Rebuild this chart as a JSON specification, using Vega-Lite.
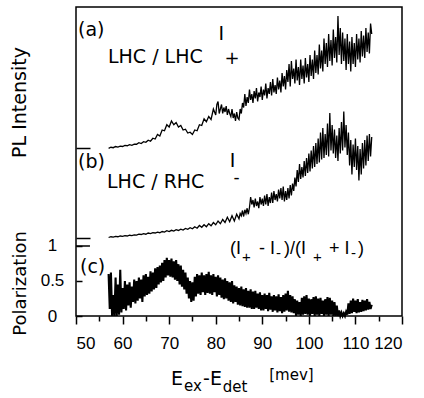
{
 "$schema": "https://vega.github.io/schema/vega-lite/v6.json",
 "width": 326, "height": 309,
 "autosize": {"type": "none"},
 "padding": {"left": 76, "top": 7, "right": 22, "bottom": 82},
 "config": {
   "font": "Liberation Sans",
   "view": {"stroke": "#000", "strokeWidth": 1.5},
   "axis": {"grid": false, "domain": false, "tickColor": "#000", "labelColor": "#000", "titleColor": "#000", "tickWidth": 1.5, "labelFont": "Liberation Sans", "titleFont": "DejaVu Sans", "titleFontWeight": "normal"},
   "text": {"font": "DejaVu Sans", "color": "#000", "align": "left", "baseline": "alphabetic"}
 },
 "datasets": {
  "pol": [
   {"e":57,"v":0.6},{"e":57.25,"v":0.1},{"e":57.5,"v":0.62},{"e":57.75,"v":0.0},{"e":58,"v":0.3},{"e":58.25,"v":0.0},{"e":58.5,"v":0.55},{"e":58.75,"v":0.0},{"e":59,"v":0.45},{"e":59.25,"v":0.02},{"e":59.5,"v":0.66},{"e":59.75,"v":0.05},
   {"e":60,"v":0.4},{"e":60.25,"v":0.1},{"e":60.5,"v":0.5},{"e":60.75,"v":0.08},{"e":61,"v":0.45},{"e":61.25,"v":0.15},{"e":61.5,"v":0.48},{"e":61.75,"v":0.12},{"e":62,"v":0.42},{"e":62.25,"v":0.2},{"e":62.5,"v":0.52},{"e":62.75,"v":0.18},
   {"e":63,"v":0.5},{"e":63.25,"v":0.22},{"e":63.5,"v":0.55},{"e":63.75,"v":0.25},{"e":64,"v":0.52},{"e":64.25,"v":0.2},{"e":64.5,"v":0.58},{"e":64.75,"v":0.28},{"e":65,"v":0.6},{"e":65.25,"v":0.3},{"e":65.5,"v":0.56},{"e":65.75,"v":0.32},
   {"e":66,"v":0.64},{"e":66.25,"v":0.35},{"e":66.5,"v":0.62},{"e":66.75,"v":0.38},{"e":67,"v":0.68},{"e":67.25,"v":0.4},{"e":67.5,"v":0.7},{"e":67.75,"v":0.45},{"e":68,"v":0.72},{"e":68.25,"v":0.48},{"e":68.5,"v":0.76},{"e":68.75,"v":0.5},
   {"e":69,"v":0.8},{"e":69.25,"v":0.55},{"e":69.5,"v":0.83},{"e":69.75,"v":0.58},{"e":70,"v":0.8},{"e":70.25,"v":0.56},{"e":70.5,"v":0.82},{"e":70.75,"v":0.55},{"e":71,"v":0.78},{"e":71.25,"v":0.52},{"e":71.5,"v":0.8},{"e":71.75,"v":0.5},
   {"e":72,"v":0.74},{"e":72.25,"v":0.45},{"e":72.5,"v":0.72},{"e":72.75,"v":0.42},{"e":73,"v":0.66},{"e":73.25,"v":0.38},{"e":73.5,"v":0.62},{"e":73.75,"v":0.32},{"e":74,"v":0.55},{"e":74.25,"v":0.25},{"e":74.5,"v":0.5},{"e":74.75,"v":0.2},
   {"e":75,"v":0.48},{"e":75.25,"v":0.22},{"e":75.5,"v":0.56},{"e":75.75,"v":0.28},{"e":76,"v":0.6},{"e":76.25,"v":0.32},{"e":76.5,"v":0.58},{"e":76.75,"v":0.3},{"e":77,"v":0.62},{"e":77.25,"v":0.34},{"e":77.5,"v":0.58},{"e":77.75,"v":0.3},
   {"e":78,"v":0.6},{"e":78.25,"v":0.33},{"e":78.5,"v":0.63},{"e":78.75,"v":0.32},{"e":79,"v":0.58},{"e":79.25,"v":0.3},{"e":79.5,"v":0.6},{"e":79.75,"v":0.34},{"e":80,"v":0.56},{"e":80.25,"v":0.28},{"e":80.5,"v":0.58},{"e":80.75,"v":0.3},
   {"e":81,"v":0.55},{"e":81.25,"v":0.26},{"e":81.5,"v":0.52},{"e":81.75,"v":0.24},{"e":82,"v":0.54},{"e":82.25,"v":0.25},{"e":82.5,"v":0.5},{"e":82.75,"v":0.22},{"e":83,"v":0.48},{"e":83.25,"v":0.2},{"e":83.5,"v":0.5},{"e":83.75,"v":0.18},
   {"e":84,"v":0.44},{"e":84.25,"v":0.2},{"e":84.5,"v":0.42},{"e":84.75,"v":0.16},{"e":85,"v":0.4},{"e":85.25,"v":0.15},{"e":85.5,"v":0.42},{"e":85.75,"v":0.14},{"e":86,"v":0.38},{"e":86.25,"v":0.13},{"e":86.5,"v":0.4},{"e":86.75,"v":0.12},
   {"e":87,"v":0.36},{"e":87.25,"v":0.12},{"e":87.5,"v":0.38},{"e":87.75,"v":0.1},{"e":88,"v":0.35},{"e":88.25,"v":0.1},{"e":88.5,"v":0.36},{"e":88.75,"v":0.12},{"e":89,"v":0.32},{"e":89.25,"v":0.1},{"e":89.5,"v":0.34},{"e":89.75,"v":0.08},
   {"e":90,"v":0.3},{"e":90.25,"v":0.08},{"e":90.5,"v":0.32},{"e":90.75,"v":0.1},{"e":91,"v":0.3},{"e":91.25,"v":0.07},{"e":91.5,"v":0.33},{"e":91.75,"v":0.09},{"e":92,"v":0.28},{"e":92.25,"v":0.06},{"e":92.5,"v":0.3},{"e":92.75,"v":0.08},
   {"e":93,"v":0.28},{"e":93.25,"v":0.05},{"e":93.5,"v":0.31},{"e":93.75,"v":0.07},{"e":94,"v":0.27},{"e":94.25,"v":0.04},{"e":94.5,"v":0.3},{"e":94.75,"v":0.06},{"e":95,"v":0.32},{"e":95.25,"v":0.08},{"e":95.5,"v":0.36},{"e":95.75,"v":0.06},
   {"e":96,"v":0.3},{"e":96.25,"v":0.05},{"e":96.5,"v":0.28},{"e":96.75,"v":0.04},{"e":97,"v":0.24},{"e":97.25,"v":0.0},{"e":97.5,"v":0.22},{"e":97.75,"v":0.02},{"e":98,"v":0.2},{"e":98.25,"v":0.0},{"e":98.5,"v":0.26},{"e":98.75,"v":0.02},
   {"e":99,"v":0.28},{"e":99.25,"v":0.03},{"e":99.5,"v":0.3},{"e":99.75,"v":0.02},{"e":100,"v":0.25},{"e":100.25,"v":0.0},{"e":100.5,"v":0.24},{"e":100.75,"v":0.03},{"e":101,"v":0.27},{"e":101.25,"v":0.0},{"e":101.5,"v":0.28},{"e":101.75,"v":0.02},
   {"e":102,"v":0.25},{"e":102.25,"v":0.0},{"e":102.5,"v":0.26},{"e":102.75,"v":0.03},{"e":103,"v":0.22},{"e":103.25,"v":0.0},{"e":103.5,"v":0.24},{"e":103.75,"v":0.02},{"e":104,"v":0.27},{"e":104.25,"v":0.0},{"e":104.5,"v":0.26},{"e":104.75,"v":0.02},
   {"e":105,"v":0.22},{"e":105.25,"v":0.0},{"e":105.5,"v":0.2},{"e":105.75,"v":0.0},{"e":106,"v":0.15},{"e":106.25,"v":0.0},{"e":106.5,"v":0.08},{"e":106.75,"v":0.0},{"e":107,"v":0.05},{"e":107.25,"v":0.0},{"e":107.5,"v":0.04},{"e":107.75,"v":0.0},
   {"e":108,"v":0.06},{"e":108.25,"v":0.02},{"e":108.5,"v":0.18},{"e":108.75,"v":0.03},{"e":109,"v":0.22},{"e":109.25,"v":0.04},{"e":109.5,"v":0.25},{"e":109.75,"v":0.06},{"e":110,"v":0.22},{"e":110.25,"v":0.04},{"e":110.5,"v":0.24},{"e":110.75,"v":0.05},
   {"e":111,"v":0.2},{"e":111.25,"v":0.06},{"e":111.5,"v":0.23},{"e":111.75,"v":0.07},{"e":112,"v":0.22},{"e":112.25,"v":0.08},{"e":112.5,"v":0.24},{"e":112.75,"v":0.09},{"e":113,"v":0.2},{"e":113.25,"v":0.1},{"e":113.5,"v":0.16}
  ],
  "ip": [
   {"e":57,"v":-0.02},{"e":57.5,"v":0.05},{"e":58,"v":0.02},{"e":58.5,"v":0.1},{"e":59,"v":0.06},{"e":59.5,"v":0.12},{"e":60,"v":0.1},{"e":60.5,"v":0.17},{"e":61,"v":0.15},{"e":61.5,"v":0.22},{"e":62,"v":0.18},{"e":62.5,"v":0.26},{"e":63,"v":0.25},{"e":63.5,"v":0.35},{"e":64,"v":0.3},{"e":64.5,"v":0.42},{"e":65,"v":0.38},{"e":65.5,"v":0.52},{"e":66,"v":0.45},{"e":66.5,"v":0.65},{"e":67,"v":0.6},{"e":67.5,"v":0.9},{"e":68,"v":0.8},{"e":68.5,"v":1.2},{"e":69,"v":1.15},{"e":69.5,"v":1.55},{"e":70,"v":1.4},{"e":70.5,"v":1.8},{"e":71,"v":1.55},{"e":71.5,"v":1.7},{"e":72,"v":1.4},{"e":72.5,"v":1.5},{"e":73,"v":1.2},{"e":73.5,"v":1.25},{"e":74,"v":1.0},{"e":74.5,"v":1.05},{"e":75,"v":0.9},{"e":75.5,"v":1.2},{"e":76,"v":1.15},{"e":76.5,"v":1.55},{"e":77,"v":1.5},{"e":77.5,"v":1.95},{"e":78,"v":1.75},{"e":78.5,"v":2.1},{"e":79,"v":1.9},{"e":79.5,"v":2.6},
   {"e":80,"v":2.2},{"e":80.25,"v":2.9},{"e":80.5,"v":3.1},{"e":80.75,"v":2.3},{"e":81,"v":2.6},{"e":81.25,"v":2.9},{"e":81.5,"v":2.3},{"e":81.75,"v":2.7},{"e":82,"v":2.4},{"e":82.25,"v":2.8},{"e":82.5,"v":2.2},{"e":82.75,"v":2.6},
   {"e":83,"v":2.3},{"e":83.25,"v":2.1},{"e":83.5,"v":2.6},{"e":83.75,"v":2.0},{"e":84,"v":2.3},{"e":84.25,"v":1.8},{"e":84.5,"v":2.4},{"e":84.75,"v":2.0},{"e":85,"v":1.9},{"e":85.25,"v":2.6},{"e":85.5,"v":2.3},{"e":85.75,"v":3.0},
   {"e":86,"v":2.7},{"e":86.25,"v":3.6},{"e":86.5,"v":2.8},{"e":86.75,"v":3.4},{"e":87,"v":3.0},{"e":87.25,"v":3.9},{"e":87.5,"v":3.2},{"e":87.75,"v":3.6},{"e":88,"v":3.0},{"e":88.25,"v":3.8},{"e":88.5,"v":3.3},{"e":88.75,"v":4.0},
   {"e":89,"v":3.1},{"e":89.25,"v":3.7},{"e":89.5,"v":3.4},{"e":89.75,"v":4.1},{"e":90,"v":3.2},{"e":90.25,"v":3.9},{"e":90.5,"v":3.5},{"e":90.75,"v":4.3},{"e":91,"v":3.3},{"e":91.25,"v":4.0},{"e":91.5,"v":3.6},{"e":91.75,"v":4.4},
   {"e":92,"v":3.5},{"e":92.25,"v":4.6},{"e":92.5,"v":3.7},{"e":92.75,"v":4.2},{"e":93,"v":3.6},{"e":93.25,"v":4.7},{"e":93.5,"v":3.9},{"e":93.75,"v":4.5},{"e":94,"v":3.7},{"e":94.25,"v":5.0},{"e":94.5,"v":4.1},{"e":94.75,"v":4.8},
   {"e":95,"v":3.9},{"e":95.25,"v":5.2},{"e":95.5,"v":4.4},{"e":95.75,"v":5.6},{"e":96,"v":4.1},{"e":96.25,"v":5.8},{"e":96.5,"v":4.6},{"e":96.75,"v":5.3},{"e":97,"v":4.3},{"e":97.25,"v":5.9},{"e":97.5,"v":4.5},{"e":97.75,"v":5.4},
   {"e":98,"v":4.2},{"e":98.25,"v":5.9},{"e":98.5,"v":4.6},{"e":98.75,"v":5.5},{"e":99,"v":4.3},{"e":99.25,"v":6.0},{"e":99.5,"v":4.7},{"e":99.75,"v":5.6},{"e":100,"v":4.4},{"e":100.25,"v":6.2},{"e":100.5,"v":4.8},{"e":100.75,"v":5.9},
   {"e":101,"v":4.6},{"e":101.25,"v":6.5},{"e":101.5,"v":5.0},{"e":101.75,"v":6.2},{"e":102,"v":4.9},{"e":102.25,"v":6.9},{"e":102.5,"v":5.3},{"e":102.75,"v":6.5},{"e":103,"v":5.1},{"e":103.25,"v":7.3},{"e":103.5,"v":5.6},{"e":103.75,"v":7.0},
   {"e":104,"v":5.4},{"e":104.25,"v":7.6},{"e":104.5,"v":5.8},{"e":104.75,"v":7.2},{"e":105,"v":5.5},{"e":105.25,"v":7.9},{"e":105.5,"v":6.0},{"e":105.75,"v":7.4},{"e":106,"v":5.7},{"e":106.25,"v":8.8},{"e":106.5,"v":6.2},{"e":106.75,"v":8.0},
   {"e":107,"v":5.6},{"e":107.25,"v":7.7},{"e":107.5,"v":5.8},{"e":107.75,"v":7.3},{"e":108,"v":5.2},{"e":108.25,"v":7.6},{"e":108.5,"v":5.6},{"e":108.75,"v":7.1},{"e":109,"v":5.1},{"e":109.25,"v":7.4},{"e":109.5,"v":5.6},{"e":109.75,"v":7.0},
   {"e":110,"v":5.4},{"e":110.25,"v":7.6},{"e":110.5,"v":5.9},{"e":110.75,"v":7.3},{"e":111,"v":5.7},{"e":111.25,"v":7.8},{"e":111.5,"v":6.1},{"e":111.75,"v":7.5},{"e":112,"v":6.0},{"e":112.25,"v":8.0},{"e":112.5,"v":6.4},{"e":112.75,"v":7.7},
   {"e":113,"v":6.3},{"e":113.25,"v":8.3},{"e":113.5,"v":7.6}
  ],
  "im": [
   {"e":57,"v":0.0},{"e":57.5,"v":0.05},{"e":58,"v":0.02},{"e":58.5,"v":0.07},{"e":59,"v":0.05},{"e":59.5,"v":0.1},{"e":60,"v":0.08},{"e":60.5,"v":0.13},{"e":61,"v":0.1},{"e":61.5,"v":0.15},{"e":62,"v":0.13},{"e":62.5,"v":0.18},{"e":63,"v":0.16},{"e":63.5,"v":0.22},{"e":64,"v":0.2},{"e":64.5,"v":0.26},{"e":65,"v":0.22},{"e":65.5,"v":0.3},{"e":66,"v":0.26},{"e":66.5,"v":0.32},{"e":67,"v":0.3},{"e":67.5,"v":0.36},{"e":68,"v":0.32},{"e":68.5,"v":0.4},{"e":69,"v":0.36},{"e":69.5,"v":0.45},{"e":70,"v":0.4},{"e":70.5,"v":0.48},{"e":71,"v":0.43},{"e":71.5,"v":0.52},{"e":72,"v":0.47},{"e":72.5,"v":0.56},{"e":73,"v":0.5},{"e":73.5,"v":0.6},{"e":74,"v":0.55},{"e":74.5,"v":0.65},{"e":75,"v":0.58},{"e":75.5,"v":0.72},{"e":76,"v":0.62},{"e":76.5,"v":0.8},{"e":77,"v":0.68},{"e":77.5,"v":0.85},{"e":78,"v":0.72},{"e":78.5,"v":0.92},{"e":79,"v":0.78},{"e":79.5,"v":1.0},{"e":80,"v":0.85},{"e":80.5,"v":1.1},{"e":81,"v":0.92},{"e":81.5,"v":1.2},{"e":82,"v":1.0},{"e":82.5,"v":1.35},{"e":83,"v":1.05},{"e":83.5,"v":1.45},{"e":84,"v":1.1},{"e":84.5,"v":1.55},
   {"e":85,"v":1.25},{"e":85.25,"v":1.6},{"e":85.5,"v":1.45},{"e":85.75,"v":1.8},{"e":86,"v":1.4},{"e":86.25,"v":1.85},{"e":86.5,"v":1.6},{"e":86.75,"v":1.95},{"e":87,"v":1.55},{"e":87.25,"v":2.0},{"e":87.5,"v":2.7},{"e":87.75,"v":2.2},
   {"e":88,"v":2.5},{"e":88.25,"v":2.0},{"e":88.5,"v":2.6},{"e":88.75,"v":2.1},{"e":89,"v":2.4},{"e":89.25,"v":1.95},{"e":89.5,"v":2.7},{"e":89.75,"v":2.2},{"e":90,"v":2.6},{"e":90.25,"v":2.1},{"e":90.5,"v":2.8},{"e":90.75,"v":2.2},
   {"e":91,"v":2.9},{"e":91.25,"v":2.1},{"e":91.5,"v":2.7},{"e":91.75,"v":2.3},{"e":92,"v":3.0},{"e":92.25,"v":2.3},{"e":92.5,"v":3.1},{"e":92.75,"v":2.5},{"e":93,"v":2.9},{"e":93.25,"v":2.4},{"e":93.5,"v":3.2},{"e":93.75,"v":2.6},
   {"e":94,"v":3.3},{"e":94.25,"v":2.5},{"e":94.5,"v":3.4},{"e":94.75,"v":2.4},{"e":95,"v":3.1},{"e":95.25,"v":2.5},{"e":95.5,"v":3.3},{"e":95.75,"v":2.6},{"e":96,"v":3.5},{"e":96.25,"v":2.8},{"e":96.5,"v":3.6},{"e":96.75,"v":3.1},
   {"e":97,"v":4.0},{"e":97.25,"v":3.4},{"e":97.5,"v":4.5},{"e":97.75,"v":3.7},{"e":98,"v":4.9},{"e":98.25,"v":3.9},{"e":98.5,"v":4.7},{"e":98.75,"v":4.0},{"e":99,"v":5.1},{"e":99.25,"v":4.1},{"e":99.5,"v":5.3},{"e":99.75,"v":4.3},
   {"e":100,"v":5.6},{"e":100.25,"v":4.4},{"e":100.5,"v":5.8},{"e":100.75,"v":4.6},{"e":101,"v":6.1},{"e":101.25,"v":4.7},{"e":101.5,"v":6.3},{"e":101.75,"v":4.9},{"e":102,"v":6.6},{"e":102.25,"v":5.0},{"e":102.5,"v":7.0},{"e":102.75,"v":5.2},
   {"e":103,"v":7.3},{"e":103.25,"v":5.3},{"e":103.5,"v":6.9},{"e":103.75,"v":5.5},{"e":104,"v":7.6},{"e":104.25,"v":5.4},{"e":104.5,"v":8.3},{"e":104.75,"v":5.8},{"e":105,"v":7.5},{"e":105.25,"v":5.6},{"e":105.5,"v":7.2},{"e":105.75,"v":5.3},
   {"e":106,"v":6.8},{"e":106.25,"v":5.1},{"e":106.5,"v":7.3},{"e":106.75,"v":5.6},{"e":107,"v":7.7},{"e":107.25,"v":5.8},{"e":107.5,"v":8.4},{"e":107.75,"v":6.0},{"e":108,"v":7.5},{"e":108.25,"v":5.5},{"e":108.5,"v":7.0},{"e":108.75,"v":4.8},
   {"e":109,"v":6.5},{"e":109.25,"v":4.2},{"e":109.5,"v":6.2},{"e":109.75,"v":4.7},{"e":110,"v":6.6},{"e":110.25,"v":4.5},{"e":110.5,"v":6.1},{"e":110.75,"v":3.8},{"e":111,"v":5.9},{"e":111.25,"v":4.2},{"e":111.5,"v":6.3},{"e":111.75,"v":4.6},
   {"e":112,"v":6.5},{"e":112.25,"v":4.8},{"e":112.5,"v":6.8},{"e":112.75,"v":5.1},{"e":113,"v":6.9},{"e":113.25,"v":5.4},{"e":113.5,"v":6.7}
  ]
 },
 "layer": [
  {
   "layer": [
    {
     "data": {"name": "pol"},
     "mark": {"type": "line", "color": "#000", "strokeWidth": 2.1},
     "encoding": {
      "x": {"field": "e", "type": "quantitative", "scale": {"domain": [50, 120], "nice": false, "zero": false},
            "axis": {"orient": "bottom", "values": [50, 60, 70, 80, 90, 100, 110, 120], "tickSize": 8, "labelFontSize": 17, "labelPadding": 11, "title": null}},
      "y": {"field": "v", "type": "quantitative", "scale": {"domain": [0, 4.414], "nice": false, "zero": false},
            "axis": {"orient": "left", "values": [0, 0.5, 1], "format": "~g", "tickSize": -6,
                     "labelFontSize": 17, "labelAlign": "center", "labelBaseline": "middle", "labelPadding": 30,
                     "title": "Polarization", "titleFontSize": 18, "titleX": -51, "titleY": 276, "titleAngle": 270,
                     "titleAlign": "center", "titleBaseline": "alphabetic"}}
     }
    },
    {"data": {"values": [{}]}, "mark": {"type": "rule", "color": "#000", "strokeWidth": 1.5}, "encoding": {"x": {"datum": 50, "type": "quantitative"}, "x2": {"datum": 53.0}, "y": {"datum": 1, "type": "quantitative"}}},
    {"data": {"values": [{}]}, "mark": {"type": "text", "text": "(a)", "fontSize": 19}, "encoding": {"x": {"datum": 50.43, "type": "quantitative"}, "y": {"datum": 4.0, "type": "quantitative"}}},
    {"data": {"values": [{}]}, "mark": {"type": "text", "text": "LHC / LHC", "fontSize": 19}, "encoding": {"x": {"datum": 56.87, "type": "quantitative"}, "y": {"datum": 3.614, "type": "quantitative"}}},
    {"data": {"values": [{}]}, "mark": {"type": "text", "text": "I", "fontSize": 19}, "encoding": {"x": {"datum": 80.6, "type": "quantitative"}, "y": {"datum": 3.943, "type": "quantitative"}}},
    {"data": {"values": [{}]}, "mark": {"type": "text", "text": "+", "fontSize": 18}, "encoding": {"x": {"datum": 81.9, "type": "quantitative"}, "y": {"datum": 3.6, "type": "quantitative"}}},
    {"data": {"values": [{}]}, "mark": {"type": "text", "text": "(b)", "fontSize": 19}, "encoding": {"x": {"datum": 50.43, "type": "quantitative"}, "y": {"datum": 2.114, "type": "quantitative"}}},
    {"data": {"values": [{}]}, "mark": {"type": "text", "text": "LHC / RHC", "fontSize": 19}, "encoding": {"x": {"datum": 56.66, "type": "quantitative"}, "y": {"datum": 1.829, "type": "quantitative"}}},
    {"data": {"values": [{}]}, "mark": {"type": "text", "text": "I", "fontSize": 19}, "encoding": {"x": {"datum": 83.0, "type": "quantitative"}, "y": {"datum": 2.129, "type": "quantitative"}}},
    {"data": {"values": [{}]}, "mark": {"type": "text", "text": "-", "fontSize": 17}, "encoding": {"x": {"datum": 83.8, "type": "quantitative"}, "y": {"datum": 1.9, "type": "quantitative"}}},
    {"data": {"values": [{}]}, "mark": {"type": "text", "text": "(c)", "fontSize": 19}, "encoding": {"x": {"datum": 50.86, "type": "quantitative"}, "y": {"datum": 0.614, "type": "quantitative"}}},
    {"data": {"values": [{}]}, "mark": {"type": "text", "text": "(I", "fontSize": 18, "font": "Liberation Sans"}, "encoding": {"x": {"datum": 83.07, "type": "quantitative"}, "y": {"datum": 0.886, "type": "quantitative"}}},
    {"data": {"values": [{}]}, "mark": {"type": "text", "text": "+", "fontSize": 15, "font": "Liberation Sans"}, "encoding": {"x": {"datum": 85.65, "type": "quantitative"}, "y": {"datum": 0.771, "type": "quantitative"}}},
    {"data": {"values": [{}]}, "mark": {"type": "text", "text": "- I", "fontSize": 18, "font": "Liberation Sans"}, "encoding": {"x": {"datum": 89.3, "type": "quantitative"}, "y": {"datum": 0.886, "type": "quantitative"}}},
    {"data": {"values": [{}]}, "mark": {"type": "text", "text": "-", "fontSize": 15, "font": "Liberation Sans"}, "encoding": {"x": {"datum": 92.95, "type": "quantitative"}, "y": {"datum": 0.829, "type": "quantitative"}}},
    {"data": {"values": [{}]}, "mark": {"type": "text", "text": ")/(I", "fontSize": 18, "font": "Liberation Sans"}, "encoding": {"x": {"datum": 94.66, "type": "quantitative"}, "y": {"datum": 0.886, "type": "quantitative"}}},
    {"data": {"values": [{}]}, "mark": {"type": "text", "text": "+", "fontSize": 15, "font": "Liberation Sans"}, "encoding": {"x": {"datum": 100.89, "type": "quantitative"}, "y": {"datum": 0.771, "type": "quantitative"}}},
    {"data": {"values": [{}]}, "mark": {"type": "text", "text": "+ I", "fontSize": 18, "font": "Liberation Sans"}, "encoding": {"x": {"datum": 104.33, "type": "quantitative"}, "y": {"datum": 0.886, "type": "quantitative"}}},
    {"data": {"values": [{}]}, "mark": {"type": "text", "text": "-", "fontSize": 15, "font": "Liberation Sans"}, "encoding": {"x": {"datum": 109.05, "type": "quantitative"}, "y": {"datum": 0.829, "type": "quantitative"}}},
    {"data": {"values": [{}]}, "mark": {"type": "text", "text": ")", "fontSize": 18, "font": "Liberation Sans"}, "encoding": {"x": {"datum": 110.55, "type": "quantitative"}, "y": {"datum": 0.886, "type": "quantitative"}}},
    {"data": {"values": [{}]}, "mark": {"type": "text", "text": "E", "fontSize": 19}, "encoding": {"x": {"datum": 70.4, "type": "quantitative"}, "y": {"datum": -0.986, "type": "quantitative"}}},
    {"data": {"values": [{}]}, "mark": {"type": "text", "text": "ex", "fontSize": 15}, "encoding": {"x": {"datum": 73.19, "type": "quantitative"}, "y": {"datum": -1.071, "type": "quantitative"}}},
    {"data": {"values": [{}]}, "mark": {"type": "text", "text": "-E", "fontSize": 19}, "encoding": {"x": {"datum": 77.28, "type": "quantitative"}, "y": {"datum": -0.986, "type": "quantitative"}}},
    {"data": {"values": [{}]}, "mark": {"type": "text", "text": "det", "fontSize": 15}, "encoding": {"x": {"datum": 81.5, "type": "quantitative"}, "y": {"datum": -1.086, "type": "quantitative"}}},
    {"data": {"values": [{}]}, "mark": {"type": "text", "text": "[mev]", "fontSize": 15}, "encoding": {"x": {"datum": 91.5, "type": "quantitative"}, "y": {"datum": -0.914, "type": "quantitative"}}}
   ]
  },
  {
   "data": {"name": "ip"},
   "mark": {"type": "line", "color": "#000", "strokeWidth": 1.3},
   "encoding": {
    "x": {"field": "e", "type": "quantitative", "scale": {"domain": [50, 120]},
          "axis": {"orient": "bottom", "values": [55, 65, 75, 85, 95, 105, 115], "tickSize": 5, "labels": false, "title": null}},
    "y": {"field": "v", "type": "quantitative", "scale": {"domain": [-11.2, 9.4], "nice": false, "zero": false},
          "axis": {"orient": "left", "values": [0], "tickSize": -14, "labels": false,
                   "title": "PL Intensity", "titleFontSize": 19, "titleX": -51, "titleY": 95, "titleAngle": 270,
                   "titleAlign": "center", "titleBaseline": "alphabetic"}}
   }
  },
  {
   "data": {"name": "im"},
   "mark": {"type": "line", "color": "#000", "strokeWidth": 1.3},
   "encoding": {
    "x": {"field": "e", "type": "quantitative", "scale": {"domain": [50, 120]}, "axis": null},
    "y": {"field": "v", "type": "quantitative", "scale": {"domain": [-5.233, 15.367], "nice": false, "zero": false},
          "axis": {"orient": "left", "values": [0], "tickSize": -14, "labels": false, "title": null}}
   }
  }
 ],
 "resolve": {"scale": {"y": "independent"}, "axis": {"x": "independent", "y": "independent"}}
}
